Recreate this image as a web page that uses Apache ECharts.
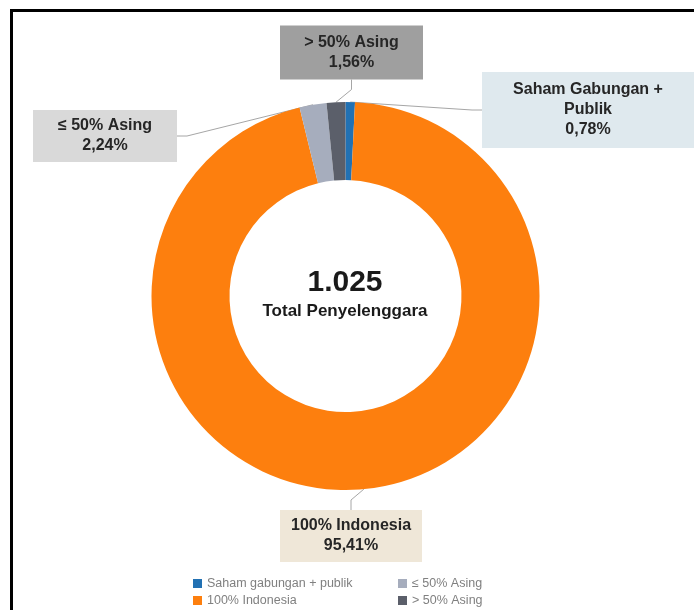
<!DOCTYPE html>
<html>
<head>
<meta charset="utf-8">
<script src="https://cdn.jsdelivr.net/npm/echarts@6/dist/echarts.min.js"></script>
<style>
  html, body { margin: 0; padding: 0; background: #ffffff; }
  #chart { width: 694px; height: 610px; }
</style>
</head>
<body>
<div id="chart"></div>
<script>
// Ownership categories of the operators (counts out of the total)
const categories = ['Saham gabungan + publik', '100% Indonesia', '≤ 50% Asing', '> 50% Asing'];
const labelNames = ['Saham Gabungan +\nPublik', '100% Indonesia', '≤ 50% Asing', '> 50% Asing'];
const counts = [8, 978, 23, 16];
const centerCaption = 'Total Penyelenggara';

// Styling
const sliceColors = ['#2271b3', '#fd7f0e', '#a6adbd', '#5b5f6a'];
const boxColors = ['#dfe9ee', '#efe7d8', '#d9d9d9', '#9f9f9f'];
const boxCenters = [[588, 110], [351, 536], [105, 136], [351.5, 52.5]];
const boxWidths = [212, 142, 144, 143];
const boxPads = [[8, 0], [6, 0], [6, 0], [7, 0]];
const legendSpots = [[193, 577], [193, 594], [398, 577], [398, 594]];

const total = counts.reduce((a, b) => a + b, 0);
const fmtTotal = String(total).replace(/\B(?=(\d{3})+(?!\d))/g, '.');

const chart = echarts.init(document.getElementById('chart'));

const data = categories.map((name, i) => ({
  name: name,
  value: counts[i],
  itemStyle: { color: sliceColors[i] },
  label: {
    backgroundColor: boxColors[i],
    width: boxWidths[i],
    padding: boxPads[i]
  }
}));

const legendText = { fontSize: 12.5, color: '#808080', fontFamily: 'Liberation Sans, Arial, sans-serif' };

// one legend block per entry, laid out as two columns
const legends = categories.map((name, i) => ({
  data: [name],
  left: legendSpots[i][0], top: legendSpots[i][1],
  padding: 0,
  icon: 'rect', itemWidth: 9, itemHeight: 9, itemGap: 0,
  textStyle: legendText, selectedMode: false
}));

chart.setOption({
  animation: false,
  backgroundColor: '#ffffff',
  legend: legends,
  graphic: [
    {
      type: 'polyline',
      shape: { points: [[11.5, 640], [11.5, 10.5], [720, 10.5]] },
      style: { stroke: '#000000', lineWidth: 3, fill: null },
      z: 100
    },
    {
      type: 'text', top: 268,
      style: {
        text: fmtTotal, font: 'bold 30px "Liberation Sans", Arial, sans-serif',
        fill: '#1a1a1a', textAlign: 'center'
      },
      x: 345
    },
    {
      type: 'text', top: 303,
      style: {
        text: centerCaption, font: 'bold 17px "Liberation Sans", Arial, sans-serif',
        fill: '#1a1a1a', textAlign: 'center'
      },
      x: 345
    }
  ],
  series: [{
    type: 'pie',
    center: [345.5, 296],
    radius: [116, 194],
    startAngle: 90,
    clockwise: true,
    avoidLabelOverlap: false,
    data: data,
    label: {
      show: true,
      position: 'outside',
      formatter: p => labelNames[p.dataIndex] + '\n' + (p.value / total * 100).toFixed(2).replace('.', ',') + '%',
      fontFamily: 'Liberation Sans, Arial, sans-serif',
      fontWeight: 'bold',
      fontSize: 16,
      lineHeight: 20,
      color: '#262626',
      align: 'center'
    },
    labelLine: {
      show: true,
      length: 10,
      length2: 10,
      lineStyle: { color: '#a6a6a6', width: 1 }
    },
    labelLayout: function (params) {
      const c = boxCenters[params.dataIndex];
      return { x: c[0], y: c[1], align: 'center', verticalAlign: 'middle' };
    },
    emphasis: { disabled: true }
  }]
});
</script>
</body>
</html>
